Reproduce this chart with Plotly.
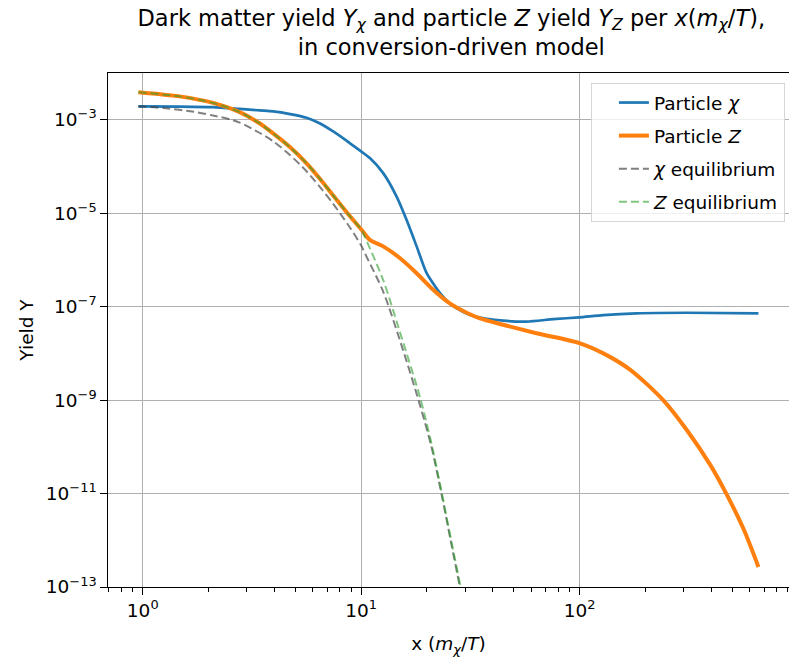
import plotly.graph_objects as go

# ---- data (x = m_chi/T, Y = yield) ----
x_chi = [0.955, 1.476, 2.099, 2.780, 3.436, 3.954, 4.732, 5.623, 6.486, 7.447, 8.872,
         10.96, 12.62, 14.52, 16.14, 17.95, 19.95, 22.96, 25.47, 28.18, 31.48, 37.58,
         44.67, 57.28, 75.86, 99.77, 128.5, 182.4, 309.7, 659.2]
y_chi = [1.93e-3, 1.91e-3, 1.86e-3, 1.70e-3, 1.58e-3, 1.51e-3, 1.32e-3, 1.10e-3, 8.3e-4,
         5.6e-4, 3.16e-4, 1.51e-4, 7.2e-5, 2.29e-5, 7.2e-6, 1.95e-6, 5.2e-7, 1.95e-7,
         1.17e-7, 8.5e-8, 6.6e-8, 5.5e-8, 5.0e-8, 4.8e-8, 5.4e-8, 5.9e-8, 6.6e-8,
         7.2e-8, 7.4e-8, 7.2e-8]

x_z = [0.955, 1.476, 2.099, 2.780, 3.436, 3.954, 4.732, 5.623, 6.486, 7.447, 8.872,
       10.05, 10.96, 12.62, 15.03, 17.95, 21.38, 25.47, 30.41, 34.99, 44.67,
       63.53, 99.77, 128.5, 170.2, 241.5, 309.7, 395.4, 472.1, 562.3, 659.2]
y_z = [3.89e-3, 3.16e-3, 2.29e-3, 1.45e-3, 8.3e-4, 5.1e-4, 2.57e-4, 1.17e-4, 5.4e-5,
       2.40e-5, 8.7e-6, 4.4e-6, 2.69e-6, 1.95e-6, 1.10e-6, 5.2e-7, 2.29e-7, 1.17e-7,
       7.4e-8, 5.6e-8, 4.1e-8, 2.69e-8, 1.66e-8, 1.0e-8, 4.5e-9, 1.0e-9, 2.29e-10,
       4.2e-11, 9.5e-12, 1.78e-12, 2.69e-13]

x_chi_eq = [0.955, 1.239, 1.762, 2.099, 2.506, 2.780, 3.436, 3.954, 4.732, 5.623, 6.486,
            7.447, 8.872, 10.05, 10.59, 12.62, 15.56, 18.58, 20.99, 23.33, 25.70, 28.31,
            29.51]
y_chi_eq = [1.93e-3, 1.78e-3, 1.45e-3, 1.23e-3, 1.02e-3, 8.7e-4, 5.2e-4, 3.47e-4,
            1.74e-4, 7.9e-5, 3.6e-5, 1.58e-5, 5.0e-6, 1.95e-6, 1.17e-6, 2.09e-7,
            1.17e-8, 7.9e-10, 1.0e-10, 9.8e-12, 1.0e-12, 1.02e-13, 4.0e-14]

x_z_eq = [0.955, 1.476, 2.099, 2.780, 3.436, 3.954, 4.732, 5.623, 6.486, 7.447, 8.872,
          10.05, 10.23, 12.62, 14.79, 18.58, 20.99, 23.33, 25.70, 28.51, 29.51]
y_z_eq = [3.89e-3, 3.16e-3, 2.29e-3, 1.45e-3, 8.3e-4, 5.1e-4, 2.57e-4, 1.17e-4, 5.4e-5,
          2.40e-5, 8.7e-6, 4.4e-6, 3.7e-6, 3.7e-7, 3.7e-8, 1.17e-9, 1.17e-10,
          1.12e-11, 1.12e-12, 1.02e-13, 4.5e-14]

y_tick_exp = [-3, -5, -7, -9, -11, -13]
x_tick_exp = [0, 1, 2]

FONT = "DejaVu Sans"
FS = 18.5
SM = 0.8

fig = go.Figure()
fig.add_trace(go.Scatter(x=x_chi, y=y_chi, mode="lines", name="Particle <i>χ</i>",
                         legendgroup="a",
                         line=dict(color="#1f77b4", width=2.7, shape="spline", smoothing=0.6)))
fig.add_trace(go.Scatter(x=x_z, y=y_z, mode="lines", name="Particle <i>Z</i>",
                         legendgroup="b",
                         line=dict(color="#ff7f0e", width=4, shape="spline", smoothing=SM)))
fig.add_trace(go.Scatter(x=x_chi_eq, y=y_chi_eq, mode="lines", name="<i>χ</i> equilibrium",
                         legendgroup="c",
                         line=dict(color="rgba(60,60,60,0.65)", width=2, dash="8px,4px",
                                   shape="spline", smoothing=SM)))
fig.add_trace(go.Scatter(x=x_z_eq, y=y_z_eq, mode="lines", name="<i>Z</i> equilibrium",
                         legendgroup="d",
                         line=dict(color="rgba(44,160,44,0.6)", width=2, dash="8px,4px",
                                   shape="spline", smoothing=SM)))


def fmt(e):
    return "10<sup>" + str(e).replace("-", "−") + "</sup>"


fig.update_layout(
    width=789, height=657,
    margin=dict(l=108, r=0, t=73, b=70),
    paper_bgcolor="white", plot_bgcolor="white",
    font=dict(family=FONT, size=FS, color="black"),
    title=dict(
        text="Dark matter yield <i>Y</i><sub><i>χ</i></sub> and particle <i>Z</i> yield "
             "<i>Y</i><sub><i>Z</i></sub> per <i>x</i>(<i>m</i><sub><i>χ</i></sub>/<i>T</i>),"
             "<br>in conversion-driven model",
        x=0.572, xanchor="center", xref="container",
        y=0.961, yanchor="top", yref="container",
        font=dict(size=22.5, family=FONT),
    ),
    showlegend=True,
    legend=dict(
        x=0.994, y=0.9805, xanchor="right", yanchor="top",
        bgcolor="rgba(255,255,255,0.8)", bordercolor="#d6d6d6", borderwidth=1,
        font=dict(size=FS, family=FONT),
        tracegroupgap=6, traceorder="grouped", indentation=22,
    ),
)

fig.update_xaxes(
    type="log", range=[-0.159, 2.959],
    tickvals=[10 ** e for e in x_tick_exp], ticktext=[fmt(e) for e in x_tick_exp],
    ticks="outside", ticklen=6.5, tickcolor="black", tickwidth=1.3,
    showgrid=True, gridcolor="#b0b0b0", gridwidth=1.3,
    showline=True, linecolor="black", linewidth=1.3, mirror=True,
    zeroline=False,
    minor=dict(ticks="outside", ticklen=3.8, tickcolor="black", tickwidth=1,
               dtick="D1", showgrid=False),
    title=dict(text="x (<i>m</i><sub><i>χ</i></sub>/<i>T</i>)", font=dict(size=FS), standoff=19),
    tickfont=dict(size=FS),
)
fig.update_yaxes(
    type="log", range=[-13, -2.0],
    tickvals=[10 ** e for e in y_tick_exp], ticktext=[fmt(e) for e in y_tick_exp],
    ticks="outside", ticklen=6.5, tickcolor="black", tickwidth=1.3,
    showgrid=True, gridcolor="#b0b0b0", gridwidth=1.3,
    showline=True, linecolor="black", linewidth=1.3, mirror=False,
    zeroline=False,
    title=dict(text="Yield Y", font=dict(size=FS), standoff=7),
    tickfont=dict(size=FS),
)

fig.write_html("out.html")
